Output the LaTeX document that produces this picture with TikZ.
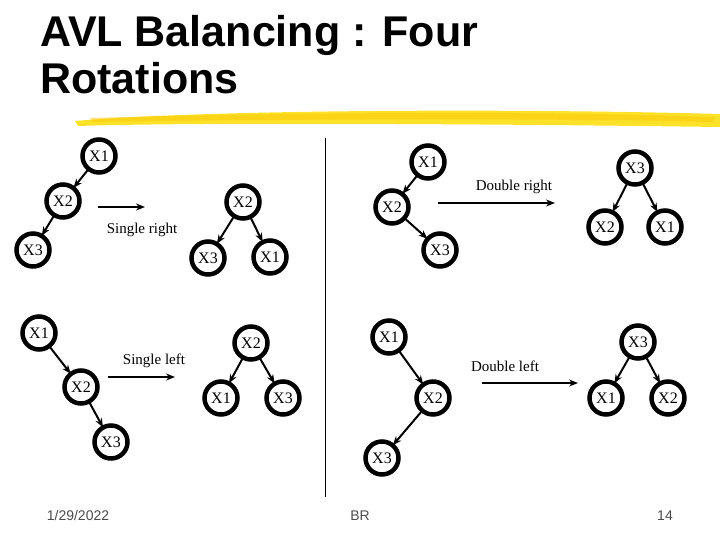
\documentclass[tikz,border=0pt]{standalone}
\usepackage{fontspec}
\setmainfont{Liberation Serif}
\newfontfamily\titlefont{Liberation Sans}
\usetikzlibrary{arrows.meta}
\begin{document}
\begin{tikzpicture}[x=1pt,y=-1pt,
  nd/.style={circle,draw,line width=4.5pt,minimum size=33pt,inner sep=0pt,font=\fontsize{16}{16}\selectfont},
  ed/.style={-{Stealth[length=9pt,width=7pt]},line width=2pt,shorten >=-2pt,shorten <=-2pt},
  lbl/.style={font=\fontsize{15}{15}\selectfont},
  foot/.style={anchor=base,font=\titlefont\fontsize{14}{14}\selectfont,text=black!70}]
\useasboundingbox (0,0) rectangle (720,540);
\node[anchor=base west,font=\titlefont\bfseries\fontsize{43}{43}\selectfont,inner sep=0pt] (t1) at (40,47) {AVL Balancing : Four};
\node[anchor=base west,font=\titlefont\bfseries\fontsize{43}{43}\selectfont,inner sep=0pt] (t2) at (40,94) {Rotations};
\fill[yellow!80!orange,opacity=0.85] (75,121) .. controls (200,110) and (500,108) .. (720,114) -- (720,127) .. controls (500,124) and (200,122) .. (78,126) -- cycle;
\fill[yellow!60!orange,opacity=0.5] (90,118) .. controls (300,112) and (550,111) .. (715,117) -- (712,122) .. controls (550,118) and (300,119) .. (92,122) -- cycle;
\coordinate (vt) at (325,138); \coordinate (vb) at (325,497);
\draw[line width=0.8pt] (vt) -- (vb);
% panel 1
\node[nd] (a1) at (99,156) {X1};
\node[nd] (a2) at (63,201) {X2};
\node[nd] (a3) at (33,250) {X3};
\draw[ed] (a1) -- (a2); \draw[ed] (a2) -- (a3);
\coordinate (aa) at (98,207); \coordinate (ab) at (145,207);
\draw[ed,shorten >=0pt,shorten <=0pt] (aa) -- (ab);
\node[lbl] (al) at (142,230) {Single right};
\node[nd] (b2) at (243,202) {X2};
\node[nd] (b3) at (208,258) {X3};
\node[nd] (b1) at (270,257) {X1};
\draw[ed] (b2) -- (b3); \draw[ed] (b2) -- (b1);
% panel 2
\node[nd] (c1) at (428,162) {X1};
\node[nd] (c2) at (392,207) {X2};
\node[nd] (c3) at (440,250) {X3};
\draw[ed] (c1) -- (c2); \draw[ed] (c2) -- (c3);
\coordinate (ca) at (438,203); \coordinate (cb) at (555,203);
\draw[ed,shorten >=0pt,shorten <=0pt] (ca) -- (cb);
\node[lbl] (cl) at (514,187) {Double right};
\node[nd] (d3) at (635,168) {X3};
\node[nd] (d2) at (605,227) {X2};
\node[nd] (d1) at (665,227) {X1};
\draw[ed] (d3) -- (d2); \draw[ed] (d3) -- (d1);
% panel 3
\node[nd] (e1) at (39,333) {X1};
\node[nd] (e2) at (81,387) {X2};
\node[nd] (e3) at (111,442) {X3};
\draw[ed] (e1) -- (e2); \draw[ed] (e2) -- (e3);
\coordinate (ea) at (108,377); \coordinate (eb) at (175,377);
\draw[ed,shorten >=0pt,shorten <=0pt] (ea) -- (eb);
\node[lbl] (el) at (154,361) {Single left};
\node[nd] (f2) at (251,343) {X2};
\node[nd] (f1) at (221,398) {X1};
\node[nd] (f3) at (283,398) {X3};
\draw[ed] (f2) -- (f1); \draw[ed] (f2) -- (f3);
% panel 4
\node[nd] (g1) at (389,337) {X1};
\node[nd] (g2) at (433,398) {X2};
\node[nd] (g3) at (382,458) {X3};
\draw[ed] (g1) -- (g2); \draw[ed] (g2) -- (g3);
\coordinate (ga) at (482,383); \coordinate (gb) at (578,383);
\draw[ed,shorten >=0pt,shorten <=0pt] (ga) -- (gb);
\node[lbl] (gl) at (505,366) {Double left};
\node[nd] (h3) at (638,342) {X3};
\node[nd] (h1) at (606,398) {X1};
\node[nd] (h2) at (668,398) {X2};
\draw[ed] (h3) -- (h1); \draw[ed] (h3) -- (h2);
% footer
\node[foot] (f_a) at (78,520) {1/29/2022};
\node[foot] (f_b) at (360,520) {BR};
\node[foot] (f_c) at (665,520) {14};
\end{tikzpicture}
\end{document}
